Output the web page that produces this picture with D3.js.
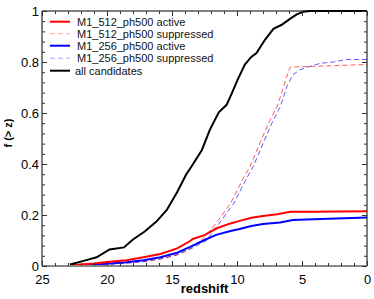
<!DOCTYPE html>
<html><head><meta charset="utf-8">
<script src="https://cdn.jsdelivr.net/npm/d3@7"></script>
<style>body{margin:0;background:#fff}svg{display:block;font-family:"Liberation Sans",Arial,Helvetica,sans-serif}</style>
</head><body><svg id="c" width="374" height="299"></svg>
<script>
const seriesNames = ["M1_512_ph500 active","M1_512_ph500 suppressed","M1_256_ph500 active","M1_256_ph500 suppressed","all candidates"];
const xTicks = [25,20,15,10,5,0];
const yTicks = [0,0.2,0.4,0.6,0.8,1];
// [redshift, f(>z)]
const allCand = [[22.85,0.006],[21.8,0.02],[20.8,0.034],[19.8,0.065],[18.7,0.073],[18.0,0.104],[17.1,0.135],[16.2,0.174],[15.4,0.22],[14.6,0.29],[13.9,0.36],[13.5,0.39],[12.7,0.455],[12.1,0.533],[11.4,0.603],[10.8,0.632],[10.4,0.677],[10.0,0.725],[9.4,0.79],[8.9,0.82],[8.5,0.835],[7.85,0.887],[7.2,0.93],[6.56,0.946],[5.9,0.97],[5.4,0.987],[4.9,0.997],[4.4,1.0],[0,1.0]];
const red512Active = [[22.8,0.003],[21,0.01],[19.8,0.017],[18.5,0.023],[17.2,0.034],[15.9,0.047],[14.6,0.069],[13.6,0.098],[13.4,0.106],[12.5,0.121],[11.6,0.147],[10.5,0.167],[9.8,0.177],[8.9,0.189],[8.0,0.196],[6.9,0.203],[5.9,0.213],[4.1,0.213],[0,0.215]];
const red512Supp = [[22.8,0.002],[19.8,0.008],[18.5,0.012],[17.2,0.018],[15.9,0.028],[14.6,0.045],[13.6,0.07],[12.6,0.108],[11.8,0.155],[10.5,0.245],[9.5,0.345],[9.0,0.39],[8.5,0.45],[8.0,0.51],[7.5,0.568],[6.9,0.627],[6.4,0.705],[6.05,0.763],[5.9,0.78],[3,0.785],[0,0.79]];
const blue256Active = [[22.8,0.002],[19.8,0.01],[18.5,0.015],[17.2,0.023],[15.9,0.034],[14.6,0.052],[13.6,0.075],[12.5,0.102],[11.6,0.122],[10.5,0.137],[9.8,0.145],[8.9,0.157],[8.0,0.165],[6.7,0.171],[5.7,0.18],[4.1,0.183],[0,0.19]];
const blue256Supp = [[22.8,0.002],[19.8,0.007],[18.5,0.011],[17.2,0.017],[15.9,0.027],[14.6,0.043],[13.6,0.066],[12.35,0.1],[11.55,0.155],[10.25,0.245],[9.25,0.345],[8.75,0.39],[8.25,0.45],[7.75,0.51],[7.25,0.568],[6.65,0.627],[6.15,0.705],[5.7,0.75],[5.15,0.77],[4.1,0.787],[3.6,0.795],[2.6,0.8],[1.56,0.81],[0,0.81]];

const L=42,R=367,T=11,B=266;
const svg=d3.select("#c");
const x=d3.scaleLinear().domain([25,0]).range([L,R]);
const y=d3.scaleLinear().domain([0,1]).range([B,T]);
const line=d3.line().x(d=>x(d[0])).y(d=>y(d[1]));

const series=[
 {data:red512Active,color:"#ff0000",w:2,dash:null,op:1},
 {data:red512Supp,color:"#ff0000",w:1,dash:"5,3",op:0.65},
 {data:blue256Active,color:"#0000ff",w:2,dash:null,op:1},
 {data:blue256Supp,color:"#0000ff",w:1,dash:"5,3",op:0.65},
 {data:allCand,color:"#000000",w:2,dash:null,op:1}
];
const order=[3,1,2,0,4];
order.forEach(i=>{const s=series[i];
 svg.append("path").attr("d",line(s.data)).attr("fill","none").attr("stroke",s.color)
  .attr("stroke-width",s.w).attr("stroke-opacity",s.op).attr("stroke-dasharray",s.dash);
});

const g=svg.append("g");
g.append("line").attr("x1",L).attr("x2",R).attr("y1",T).attr("y2",T).attr("stroke","#000");
g.append("line").attr("x1",L).attr("x2",L).attr("y1",T).attr("y2",B).attr("stroke","#000");
g.append("line").attr("x1",R).attr("x2",R).attr("y1",T).attr("y2",B).attr("stroke","#000");
g.append("line").attr("x1",L).attr("x2",R).attr("y1",B).attr("y2",B).attr("stroke","#888").attr("stroke-width",2);

svg.append("g").attr("transform",`translate(0,${B})`).call(d3.axisBottom(x).tickValues(xTicks).tickSize(-5).tickPadding(9).tickFormat(d3.format("d")));
svg.append("g").attr("transform",`translate(0,${B})`).call(d3.axisBottom(x).tickValues(d3.range(0,26,1)).tickSize(-3).tickFormat(""));
svg.append("g").attr("transform",`translate(0,${T})`).call(d3.axisTop(x).tickValues(xTicks).tickSize(-5).tickFormat(""));
svg.append("g").attr("transform",`translate(0,${T})`).call(d3.axisTop(x).tickValues(d3.range(0,26,1)).tickSize(-3).tickFormat(""));
svg.append("g").attr("transform",`translate(${L},0)`).call(d3.axisLeft(y).tickValues(yTicks).tickSize(-5).tickPadding(3).tickFormat(d=>d===0||d===1?d3.format("d")(d):d3.format(".1f")(d)));
svg.append("g").attr("transform",`translate(${L},0)`).call(d3.axisLeft(y).tickValues(d3.range(0,1.001,0.04)).tickSize(-3).tickFormat(""));
svg.append("g").attr("transform",`translate(${R},0)`).call(d3.axisRight(y).tickValues(yTicks).tickSize(-5).tickFormat(""));
svg.append("g").attr("transform",`translate(${R},0)`).call(d3.axisRight(y).tickValues(d3.range(0,1.001,0.04)).tickSize(-3).tickFormat(""));
svg.selectAll(".domain").remove();
svg.selectAll(".tick line").attr("stroke","#333");
svg.selectAll(".tick text").attr("font-size",13).attr("fill","#000").attr("font-family","Liberation Sans, Arial, sans-serif");

svg.append("text").attr("x",(L+R)/2).attr("y",293).attr("text-anchor","middle").attr("font-weight","bold").attr("font-size",13).text("redshift");
svg.append("text").attr("transform","translate(12,133) rotate(-90)").attr("text-anchor","middle").attr("font-weight","bold").attr("font-size",11).text("f (> z)");

const lg=svg.append("g");
const ly=[21.7,33.7,45.7,58.2,70.7];
series.forEach((s,i)=>{
 lg.append("line").attr("x1",50).attr("x2",70).attr("y1",ly[i]).attr("y2",ly[i]).attr("stroke",s.color)
  .attr("stroke-width",s.w).attr("stroke-opacity",s.dash?0.35:1).attr("stroke-dasharray",s.dash);
 lg.append("text").attr("x",i===4?75:77).attr("y",ly[i]+4).attr("font-size",11).attr("fill","#111").text(seriesNames[i]);
});
</script></body></html>
